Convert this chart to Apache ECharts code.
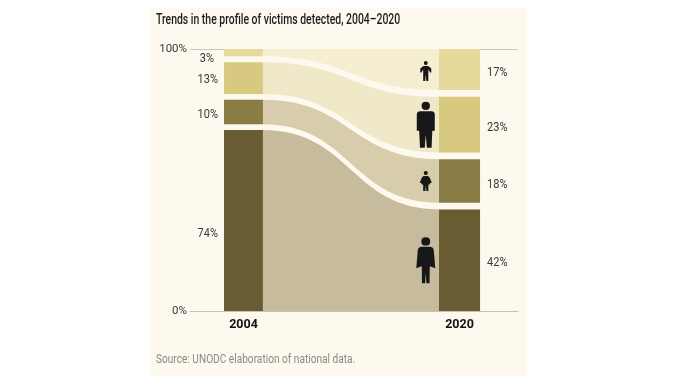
<!DOCTYPE html>
<html><head><meta charset="utf-8">
<style>html,body{margin:0;padding:0;background:#fff}#c{width:676px;height:384px}</style>
<script src="https://cdn.jsdelivr.net/npm/echarts@6/dist/echarts.min.js"></script>
</head><body><div id="c"></div>
<script>
const years = [2004, 2020];
const groups = ['Boys', 'Men', 'Girls', 'Women'];
const share2004 = [3, 13, 10, 74];
const share2020 = [17, 23, 18, 42];
const yTickLabels = ['0%', '100%'];
const titleText = 'Trends in the profile of victims detected, 2004\u20132020';
const sourceText = 'Source: UNODC elaboration of national data.';

const barColors = ['#e5da9c', '#d8c981', '#8a7c45', '#695c32'];
const ribbonColors = ['#f5eed0', '#f0e9c9', '#d7ccab', '#c6bb9d'];
const cream = '#fdf9ee';
const textColor = '#3a3a3a';
const axisTop = 107.4;
const gap2004 = 2.4, gap2020 = 2.75;
const halfBar = [1.44, 1.52];
const iconYear = 2017.5;
const leftLabelDy = [6, 2, 3, 13];
const rightLabelDy = [3, 3, 4, 3];
const fontStack = '"Roboto","Liberation Sans",sans-serif';

function stack(vals, gap) {
  const k = (axisTop - gap * (vals.length - 1)) / 100;
  let y = axisTop;
  return vals.map(v => { const top = y; const bot = y - v * k; y = bot - gap; return [top, bot]; });
}
const s04 = stack(share2004, gap2004), s20 = stack(share2020, gap2020);

const head = (cx, cy, r) => 'M' + (cx + r) + ' ' + cy +
  'Q' + (cx + r) + ' ' + (cy + r) + ' ' + cx + ' ' + (cy + r) +
  'Q' + (cx - r) + ' ' + (cy + r) + ' ' + (cx - r) + ' ' + cy +
  'Q' + (cx - r) + ' ' + (cy - r) + ' ' + cx + ' ' + (cy - r) +
  'Q' + (cx + r) + ' ' + (cy - r) + ' ' + (cx + r) + ' ' + cy + 'Z';
const icons = [
  {size: [11, 20], path: 'path://' + head(6, 2, 2.1) + 'M3.4 5L8.6 5L12 7.4L12 11.5L10.8 11.5L8.8 8.4L8.8 20L6.6 20L6 13.5L5.4 20L3.2 20L3.2 8.4L1.2 11.5L0 11.5L0 7.4Z'},
  {size: [18, 46], path: 'path://' + head(9, 4, 4.2) + 'M3.5 9.5L14.5 9.5Q18 9.5 18 13L18 29L15.6 29L14.8 46L10 46L9 33L8 46L3.2 46L2.4 29L0 29L0 13Q0 9.5 3.5 9.5Z'},
  {size: [12, 20], path: 'path://' + head(6, 2, 2.1) + 'M4 5L8 5L9.6 6L12 11.5L10 12.6L10 13.5L8.6 13.5L8.6 20L6.6 20L6.1 14L5.6 20L3.4 20L3.4 13.5L2 13.5L2 12.6L0 11.5L2.4 6Z'},
  {size: [19, 46], path: 'path://' + head(9, 4, 4.2) + 'M5.5 9.5L12.5 9.5Q16 9.5 16.5 12.5L18 31L12.8 29L12.6 46L9.6 46L9 36L8.4 46L5.4 46L5.2 29L0 31L1.5 12.5Q2 9.5 5.5 9.5Z'}
];

function renderRibbon(params, api) {
  const i = api.value(0);
  const xa = years[0] + halfBar[0], xb = years[1] - halfBar[1];
  const a0 = api.coord([xa, s04[i][0]]), a1 = api.coord([xa, s04[i][1]]);
  const b0 = api.coord([xb, s20[i][0]]), b1 = api.coord([xb, s20[i][1]]);
  const mx = (a0[0] + b0[0]) / 2;
  const d = 'M' + a0[0] + ' ' + a0[1] +
    'C' + mx + ' ' + a0[1] + ' ' + mx + ' ' + b0[1] + ' ' + b0[0] + ' ' + b0[1] +
    'L' + b1[0] + ' ' + b1[1] +
    'C' + mx + ' ' + b1[1] + ' ' + mx + ' ' + a1[1] + ' ' + a1[0] + ' ' + a1[1] + 'Z';
  const rect = (yr, k, seg) => {
    const p = api.coord([yr - halfBar[k], seg[0]]), q = api.coord([yr + halfBar[k], seg[1]]);
    return {type: 'rect', shape: {x: p[0], y: p[1], width: q[0] - p[0], height: q[1] - p[1]}, style: {fill: barColors[i]}};
  };
  const lt = api.coord([years[0] - halfBar[0], (s04[i][0] + s04[i][1]) / 2]);
  const rt = api.coord([years[1] + halfBar[1], (s20[i][0] + s20[i][1]) / 2]);
  const tf = {fill: textColor, fontFamily: fontStack, fontSize: 12.5, verticalAlign: 'middle'};
  return {type: 'group', children: [
    {type: 'path', shape: {pathData: d}, style: {fill: ribbonColors[i]}},
    rect(years[0], 0, s04[i]),
    rect(years[1], 1, s20[i]),
    {type: 'text', x: lt[0] - (i === 0 ? 10 : 6), y: lt[1] + leftLabelDy[i], scaleX: 0.88, style: Object.assign({text: share2004[i] + '%', align: 'right'}, tf)},
    {type: 'text', x: rt[0] + 7, y: rt[1] + rightLabelDy[i], scaleX: 0.88, style: Object.assign({text: share2020[i] + '%', align: 'left'}, tf)}
  ]};
}

const chart = echarts.init(document.getElementById('c'), null, {renderer: 'canvas'});
chart.setOption({
  animation: false,
  backgroundColor: '#ffffff',
  graphic: [
    {type: 'rect', z: -10, shape: {x: 150, y: 8, width: 377, height: 368}, style: {fill: cream}},
    {type: 'text', z: 10, x: 156, y: 20, scaleX: 0.745, style: {text: titleText, fontFamily: fontStack, fontSize: 14, fontWeight: 500, fill: '#1c1c1c', verticalAlign: 'middle'}},
    {type: 'text', z: 10, x: 156, y: 360, scaleX: 0.81, style: {text: sourceText, fontFamily: fontStack, fontSize: 12.5, fill: '#8a8a84', verticalAlign: 'middle'}}
  ],
  grid: {left: 190, right: 158, top: 49, bottom: 73},
  xAxis: {
    type: 'value', min: 2000.04, max: 2024.33,
    splitLine: {show: false},
    axisLine: {show: true, lineStyle: {color: '#c4c2b6', width: 1}},
    axisTick: {show: false},
    axisLabel: {customValues: years, formatter: v => String(v), margin: 7, color: '#111', fontWeight: 'bold', fontSize: 12.5, fontFamily: fontStack}
  },
  yAxis: {
    type: 'value', min: 0, max: axisTop, interval: axisTop,
    splitLine: {show: true, lineStyle: {color: '#c9c7bb', width: 1}},
    axisLine: {show: false}, axisTick: {show: false},
    axisLabel: {formatter: v => (v === 0 ? yTickLabels[0] : yTickLabels[1]), margin: 3, color: textColor, fontSize: 11.5, lineHeight: 12, padding: [3, 0, 0, 0], fontFamily: fontStack}
  },
  series: [
    {type: 'custom', z: 3, coordinateSystem: 'cartesian2d', renderItem: renderRibbon, clip: false,
     data: groups.map((g, i) => [i, share2004[i], share2020[i]])},
    {type: 'scatter', z: 5, silent: true,
     data: groups.map((g, i) => ({
       value: [iconYear, (s20[i][0] + s20[i][1]) / 2 - (i === 0 ? 0.6 : 0)],
       symbol: icons[i].path, symbolSize: icons[i].size,
       itemStyle: {color: '#171717', opacity: 1}
     }))}
  ]
});
</script></body></html>
